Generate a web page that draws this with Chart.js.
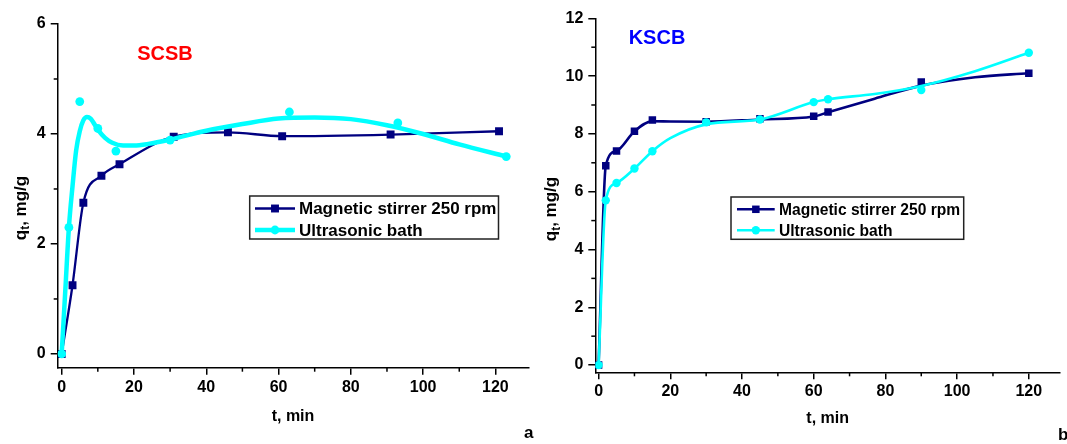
<!DOCTYPE html>
<html>
<head>
<meta charset="utf-8">
<script src="https://cdn.jsdelivr.net/npm/chart.js@4"></script>
<style>
  body { margin: 0; background: #fff; }
  canvas { position: absolute; top: 0; }
  #chartA { left: 0; }
  #chartB { left: 534px; }
</style>
</head>
<body>
<canvas id="chartA" width="534" height="444"></canvas>
<canvas id="chartB" width="533" height="444"></canvas>
<script>
// ---- panel a : SCSB ----
const timeMagA = [0, 3, 6, 11, 16, 31, 46, 61, 91, 121];
const qMagA = [0, 1.25, 2.75, 3.24, 3.45, 3.95, 4.03, 3.96, 3.99, 4.05];
const timeUltraA = [0, 2, 5, 10, 15, 30, 63, 93, 123];
const qUltraA = [0, 2.3, 4.59, 4.1, 3.69, 3.89, 4.4, 4.2, 3.59];
// fitted curve through the ultrasonic points
const fitTimeUltraA = [0, 1, 2, 3, 4, 5, 6, 7, 8, 10, 12, 14, 17, 20, 24, 30, 40, 50, 60, 70, 80, 90, 100, 110, 123];
const fitQUltraA = [0, 1.15, 2.3, 3.05, 3.7, 4.05, 4.25, 4.31, 4.28, 4.08, 3.93, 3.84, 3.79, 3.79, 3.82, 3.9, 4.06, 4.18, 4.28, 4.3, 4.27, 4.16, 4.0, 3.81, 3.59];

// ---- panel b : KSCB ----
const timeB = [0, 2, 5, 10, 15, 30, 45, 60, 64, 90, 120];
const qMagB = [0, 6.9, 7.41, 8.09, 8.48, 8.42, 8.52, 8.61, 8.76, 9.8, 10.1];
const qUltraB = [0, 5.7, 6.3, 6.8, 7.4, 8.4, 8.5, 9.1, 9.2, 9.52, 10.81];
// the drawn curves (they miss the 90 min points a little)
const fitTimeB = [0, 2, 5, 10, 15, 20, 30, 45, 60, 64, 77, 90, 105, 120];
const fitQMagB = [0, 6.9, 7.41, 8.09, 8.44, 8.43, 8.42, 8.5, 8.6, 8.75, 9.22, 9.67, 9.96, 10.1];
const fitQUltraB = [0, 5.7, 6.3, 6.8, 7.4, 7.85, 8.33, 8.5, 9.1, 9.2, 9.38, 9.66, 10.17, 10.81];

// ticks
const xTicks = [0, 20, 40, 60, 80, 100, 120];
const xMinor = [10, 30, 50, 70, 90, 110];
const yTicksA = [0, 2, 4, 6];
const yMinorA = [1, 3, 5];
const yTicksB = [0, 2, 4, 6, 8, 10, 12];
const yMinorB = [1, 3, 5, 7, 9, 11];

const labelMag = "Magnetic stirrer 250 rpm";
const labelUltra = "Ultrasonic bath";

const NAVY = "#000080";
const CYAN = "#00FFFF";
const FONT = "'Liberation Sans', Arial, sans-serif";

const pts = (xs, ys) => xs.map((x, i) => ({ x: x, y: ys[i] }));

// minor ticks, titles, axis titles, legend box
const extras = {
  id: "extras",
  afterDraw(chart, args, o) {
    const ctx = chart.ctx;
    const xs = chart.scales.x, ys = chart.scales.y;
    const area = chart.chartArea;
    ctx.save();
    ctx.strokeStyle = "#000";
    ctx.lineWidth = 1.5;
    o.xMinor.forEach(v => {
      const px = xs.getPixelForValue(v);
      ctx.beginPath(); ctx.moveTo(px, area.bottom); ctx.lineTo(px, area.bottom + 4); ctx.stroke();
    });
    o.yMinor.forEach(v => {
      const py = ys.getPixelForValue(v);
      ctx.beginPath(); ctx.moveTo(area.left, py); ctx.lineTo(area.left - 4, py); ctx.stroke();
    });

    ctx.textBaseline = "middle";
    ctx.textAlign = "center";
    ctx.font = "bold 20px " + FONT;
    ctx.fillStyle = o.titleColor;
    ctx.fillText(o.title, o.titleX, o.titleY);

    ctx.fillStyle = "#000";
    ctx.font = "bold 16px " + FONT;
    ctx.fillText("t, min", (area.left + area.right) / 2, o.xTitleY);

    ctx.textAlign = "left";
    ctx.textBaseline = "alphabetic";
    ctx.font = "bold 17px " + FONT;
    ctx.fillText(o.letter, o.letterX, o.letterY);

    // y title q_t, mg/g
    ctx.save();
    ctx.translate(o.yTitleX, o.yTitleY);
    ctx.rotate(-Math.PI / 2);
    ctx.textBaseline = "middle";
    const big = "bold 17px " + FONT, small = "bold 12px " + FONT;
    ctx.font = big; const wq = ctx.measureText("q").width; const wr = ctx.measureText(", mg/g").width;
    ctx.font = small; const wt = ctx.measureText("t").width;
    let x0 = -(wq + wt + wr) / 2;
    ctx.font = big; ctx.fillText("q", x0, 0);
    ctx.font = small; ctx.fillText("t", x0 + wq, 5);
    ctx.font = big; ctx.fillText(", mg/g", x0 + wq + wt, 0);
    ctx.restore();

    // legend
    const L = o.legend;
    ctx.strokeStyle = "#222";
    ctx.lineWidth = 1.5;
    ctx.strokeRect(L.x, L.y, L.w, L.h);
    ctx.font = "bold " + L.size + "px " + FONT;
    ctx.textBaseline = "middle";
    L.rows.forEach((r, i) => {
      const y = L.rowY[i];
      const lineDs = chart.data.datasets[r.line];
      const markDs = chart.data.datasets[r.mark];
      ctx.strokeStyle = lineDs.borderColor;
      ctx.lineWidth = lineDs.borderWidth;
      ctx.beginPath(); ctx.moveTo(L.lineX0, y); ctx.lineTo(L.lineX1, y); ctx.stroke();
      const mx = (L.lineX0 + L.lineX1) / 2;
      ctx.fillStyle = markDs.pointBackgroundColor;
      if (markDs.pointStyle === "rect") {
        const s = markDs.pointRadius * Math.SQRT1_2;
        ctx.fillRect(mx - s, y - s, 2 * s, 2 * s);
      } else {
        ctx.beginPath(); ctx.arc(mx, y, markDs.pointRadius, 0, Math.PI * 2); ctx.fill();
      }
      ctx.fillStyle = "#000";
      ctx.fillText(r.label, L.textX, y + 1);
    });
    ctx.restore();
  }
};

function xScale(minV, maxV, h) {
  return {
    type: "linear", min: minV, max: maxV,
    afterBuildTicks: s => { s.ticks = xTicks.map(v => ({ value: v })); },
    afterFit: s => { s.height = h; },
    grid: { display: true, drawOnChartArea: false, drawTicks: true, tickLength: 7, color: "#000", lineWidth: 1.5 },
    border: { display: true, color: "#000", width: 1.5 },
    ticks: { color: "#000", font: { family: FONT, size: 16, weight: "bold" }, padding: 3, maxRotation: 0, autoSkip: false }
  };
}

function yScale(minV, maxV, w, ticks) {
  return {
    type: "linear", min: minV, max: maxV,
    afterBuildTicks: s => { s.ticks = ticks.map(v => ({ value: v })); },
    afterFit: s => { s.width = w; },
    grid: { display: true, drawOnChartArea: false, drawTicks: true, tickLength: 7, color: "#000", lineWidth: 1.5 },
    border: { display: true, color: "#000", width: 1.5 },
    ticks: { color: "#000", font: { family: FONT, size: 16, weight: "bold" }, padding: 5, autoSkip: false }
  };
}

const common = {
  responsive: false,
  animation: false,
  events: [],
  plugins: { legend: { display: false }, tooltip: { enabled: false } }
};

new Chart(document.getElementById("chartA"), {
  type: "line",
  data: {
    datasets: [
      { data: pts(fitTimeUltraA, fitQUltraA), borderColor: CYAN, borderWidth: 4.5, pointRadius: 0,
        cubicInterpolationMode: "monotone", order: 0 },
      { data: pts(timeUltraA, qUltraA), showLine: false, pointStyle: "circle", pointRadius: 4.4,
        pointBackgroundColor: CYAN, pointBorderWidth: 0, borderColor: CYAN, order: 0 },
      { data: pts(timeMagA, qMagA), borderColor: NAVY, borderWidth: 2.3, pointStyle: "rect", pointRadius: 5.6,
        pointBackgroundColor: NAVY, pointBorderWidth: 0, cubicInterpolationMode: "monotone", order: 1 }
    ]
  },
  options: Object.assign({}, common, {
    layout: { padding: { left: 0, top: 24, right: 5.7, bottom: 0 } },
    scales: { x: xScale(-1.1, 129.1, 76.3), y: yScale(-0.25, 6, 57.7, yTicksA) },
    plugins: Object.assign({}, common.plugins, {
      extras: {
        xMinor: xMinor, yMinor: yMinorA,
        title: "SCSB", titleColor: "#FF0000", titleX: 165, titleY: 54,
        xTitleY: 417, letter: "a", letterX: 524, letterY: 438,
        yTitleX: 21, yTitleY: 208,
        legend: { x: 249.7, y: 196, w: 248.8, h: 43, size: 17, lineX0: 255, lineX1: 295, textX: 299,
          rowY: [208.5, 230],
          rows: [{ line: 2, mark: 2, label: labelMag }, { line: 0, mark: 1, label: labelUltra }] }
      }
    })
  }),
  plugins: [extras]
});

new Chart(document.getElementById("chartB"), {
  type: "line",
  data: {
    datasets: [
      { data: pts(fitTimeB, fitQUltraB), borderColor: CYAN, borderWidth: 2.6, pointRadius: 0,
        cubicInterpolationMode: "monotone", order: 0 },
      { data: pts(timeB, qUltraB), showLine: false, pointStyle: "circle", pointRadius: 4.2,
        pointBackgroundColor: CYAN, pointBorderWidth: 0, borderColor: CYAN, order: 0 },
      { data: pts(fitTimeB, fitQMagB), borderColor: NAVY, borderWidth: 2.6, pointRadius: 0,
        cubicInterpolationMode: "monotone", order: 1 },
      { data: pts(timeB, qMagB), showLine: false, pointStyle: "rect", pointRadius: 5.3,
        pointBackgroundColor: NAVY, pointBorderWidth: 0, borderColor: NAVY, order: 1 }
    ]
  },
  options: Object.assign({}, common, {
    layout: { padding: { left: 0, top: 18.3, right: 7, bottom: 0 } },
    scales: { x: xScale(-0.92, 128.7, 71.7), y: yScale(-0.25, 12, 61.3, yTicksB) },
    plugins: Object.assign({}, common.plugins, {
      extras: {
        xMinor: xMinor, yMinor: yMinorB,
        title: "KSCB", titleColor: "#0000FF", titleX: 123, titleY: 38,
        xTitleY: 419, letter: "b", letterX: 524, letterY: 440,
        yTitleX: 17.5, yTitleY: 209,
        legend: { x: 197, y: 197, w: 232.7, h: 42.3, size: 15.6, lineX0: 203, lineX1: 240.7, textX: 245,
          rowY: [209.3, 230.3],
          rows: [{ line: 2, mark: 3, label: labelMag }, { line: 0, mark: 1, label: labelUltra }] }
      }
    })
  }),
  plugins: [extras]
});
</script>
</body>
</html>
